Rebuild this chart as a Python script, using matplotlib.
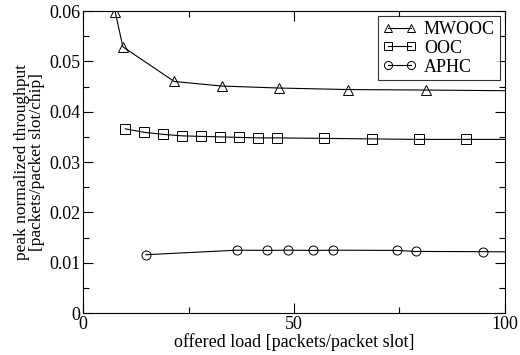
import matplotlib
matplotlib.use("Agg")
import matplotlib.pyplot as plt
from matplotlib.ticker import MultipleLocator, FuncFormatter

# MWOOC
mwooc_x = [7.6, 9.4, 21.6, 32.8, 46.5, 62.8, 81.4, 110]
mwooc_y = [0.0598, 0.0529, 0.0460, 0.0451, 0.0447, 0.0444, 0.0443, 0.0441]
# OOC
ooc_x = [10, 14.5, 19, 23.5, 28, 32.5, 37, 41.5, 46, 57.2, 68.4, 79.6, 90.8, 110]
ooc_y = [0.0366, 0.0359, 0.0355, 0.0352, 0.0351, 0.0350, 0.0349, 0.0348, 0.0348,
         0.0347, 0.0346, 0.0345, 0.0345, 0.0345]
# APHC
aphc_x = [14.9, 36.5, 43.5, 48.6, 54.6, 59.2, 74.3, 78.8, 94.9, 110]
aphc_y = [0.0116, 0.0125, 0.01245, 0.0125, 0.01245, 0.0125, 0.01245, 0.01225,
          0.0122, 0.0121]

plt.rcParams['font.family'] = ['Liberation Serif', 'DejaVu Serif']

fig = plt.figure(figsize=(5.2, 3.55), dpi=100)
ax = fig.add_axes([0.16, 0.118, 0.811, 0.851])

mk = dict(color='black', linewidth=0.8, markerfacecolor='none',
          markeredgecolor='black', markeredgewidth=0.7, markersize=6.5)
ax.plot(mwooc_x, mwooc_y, marker='^', label='MWOOC', **mk)
ax.plot(ooc_x, ooc_y, marker='s', label='OOC', **mk)
ax.plot(aphc_x, aphc_y, marker='o', label='APHC', **mk)

ax.set_xlim(0, 100)
ax.set_ylim(0, 0.06)
ax.xaxis.set_major_locator(MultipleLocator(50))
ax.xaxis.set_minor_locator(MultipleLocator(25))
ax.yaxis.set_major_locator(MultipleLocator(0.01))
ax.yaxis.set_minor_locator(MultipleLocator(0.005))
ax.yaxis.set_major_formatter(FuncFormatter(lambda v, p: '0' if abs(v) < 1e-9 else '%.2f' % v))
ax.tick_params(which='both', direction='in', top=True, right=True, labelsize=13, pad=2)
ax.tick_params(which='major', length=7, width=0.8)
ax.tick_params(which='minor', length=4, width=0.8)
for s in ax.spines.values():
    s.set_linewidth(0.8)

ax.set_xlabel('offered load [packets/packet slot]', fontsize=13, labelpad=0)
ax.set_ylabel('peak normalized throughput\n[packets/packet slot/chip]', fontsize=12.5,
              labelpad=3, linespacing=0.9)

leg = ax.legend(loc='upper right', fontsize=13, frameon=True, fancybox=False,
                edgecolor='black', numpoints=2, handlelength=1.9, handletextpad=0.4,
                labelspacing=0.1, borderpad=0.25, borderaxespad=0.3, markerscale=0.9)
leg.get_frame().set_linewidth(0.8)

fig.savefig('out.png', dpi=100)
